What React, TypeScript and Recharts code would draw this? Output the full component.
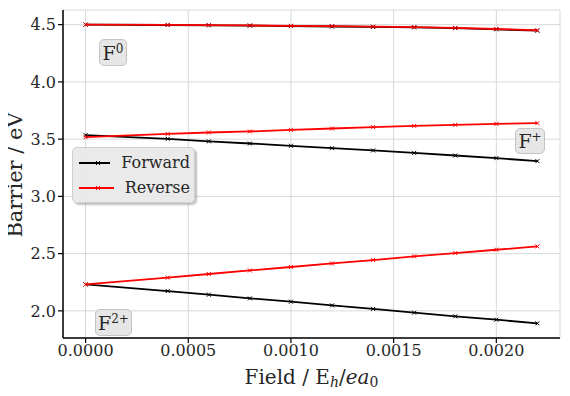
import React from "react";
import { LineChart, Line, XAxis, YAxis, CartesianGrid } from "recharts";

const fields = [0, 0.0004, 0.0006, 0.0008, 0.001, 0.0012, 0.0014, 0.0016, 0.0018, 0.002, 0.0022];

const f0Forward = [4.5, 4.497, 4.494, 4.491, 4.488, 4.484, 4.48, 4.476, 4.469, 4.459, 4.447];
const f0Reverse = [4.5, 4.498, 4.496, 4.493, 4.49, 4.487, 4.483, 4.479, 4.472, 4.462, 4.451];
const fPlusForward = [3.535, 3.503, 3.481, 3.462, 3.442, 3.421, 3.401, 3.38, 3.357, 3.334, 3.308];
const fPlusReverse = [3.517, 3.546, 3.558, 3.567, 3.581, 3.593, 3.605, 3.616, 3.625, 3.634, 3.64];
const f2Forward = [2.231, 2.173, 2.141, 2.109, 2.08, 2.048, 2.017, 1.984, 1.952, 1.923, 1.891];
const f2Reverse = [2.231, 2.29, 2.322, 2.353, 2.383, 2.414, 2.444, 2.476, 2.505, 2.534, 2.563];

const xTicks = [0, 0.0005, 0.001, 0.0015, 0.002];
const yTicks = [2.0, 2.5, 3.0, 3.5, 4.0, 4.5];
const legendItems = ["Forward", "Reverse"];

const data = fields.map((x, i) => ({
  x,
  f0f: f0Forward[i],
  f0r: f0Reverse[i],
  fpf: fPlusForward[i],
  fpr: fPlusReverse[i],
  f2f: f2Forward[i],
  f2r: f2Reverse[i],
}));

// Liberation Serif didn't resolve here, DejaVu Serif does
const FONT = '"DejaVu Serif", serif';
const BLACK = "#000000";
const RED = "#ff0000";
const TEXT = "#262626";

const cross = (color: string) => (props: any) => {
  const { cx, cy, index } = props;
  if (cx == null || cy == null) return <g key={index} />;
  const s = 2;
  return (
    <path
      key={index}
      d={`M${cx - s},${cy - s}L${cx + s},${cy + s}M${cx - s},${cy + s}L${cx + s},${cy - s}`}
      stroke={color}
      strokeWidth={1}
      fill="none"
    />
  );
};

const tickStyle = { fontFamily: FONT, fontSize: 16, fill: TEXT };

const labelBox: React.CSSProperties = {
  position: "absolute",
  background: "#e6e6e6",
  border: "1.5px solid #c4c4c4",
  borderRadius: 5,
  fontFamily: FONT,
  fontSize: 19,
  color: TEXT,
  display: "flex",
  alignItems: "center",
  justifyContent: "center",
  boxSizing: "border-box",
  lineHeight: 1,
};

function LegendBox() {
  const colors = [BLACK, RED];
  return (
    <div
      style={{
        position: "absolute",
        left: 72,
        top: 147,
        background: "rgba(232,232,232,0.92)",
        border: "1px solid #cfcfcf",
        borderRadius: 5,
        boxShadow: "2px 2px 2px rgba(0,0,0,0.25)",
        padding: "2px 4px 2px 5px",
        fontFamily: FONT,
        fontSize: 16,
        color: TEXT,
        width: 123,
        height: 56,
        boxSizing: "border-box",
      }}
    >
      {legendItems.map((text, i) => (
        <div key={text} style={{ display: "flex", alignItems: "center", height: 25 }}>
          <svg width={40} height={10} style={{ marginRight: 11 }}>
            <line x1={1} y1={5} x2={39} y2={5} stroke={colors[i]} strokeWidth={2} />
            <path d="M18,3L22,7M18,7L22,3" stroke={colors[i]} strokeWidth={1} />
          </svg>
          <span>{text}</span>
        </div>
      ))}
    </div>
  );
}

export default function App() {
  return (
    <div style={{ position: "relative", width: 570, height: 396, margin: -8, background: "#fff", fontFamily: FONT }}>
      <LineChart width={570} height={396} data={data} margin={{ top: 10, right: 10, left: 13, bottom: 28 }}>
        <CartesianGrid stroke="#d8d8d8" strokeWidth={1} />
        <XAxis
          dataKey="x"
          type="number"
          domain={[-0.00011, 0.00231]}
          allowDataOverflow
          ticks={xTicks}
          tickFormatter={(v: number) => v.toFixed(4)}
          tick={tickStyle}
          tickSize={5}
          tickLine={{ stroke: BLACK, strokeWidth: 1.2 }}
          axisLine={{ stroke: BLACK, strokeWidth: 1.5 }}
          height={30}
        />
        <XAxis
          xAxisId="top"
          dataKey="x"
          type="number"
          orientation="top"
          domain={[-0.00011, 0.00231]}
          allowDataOverflow
          tick={false}
          tickLine={false}
          axisLine={{ stroke: BLACK, strokeWidth: 1.5 }}
          height={0}
        />
        <YAxis
          type="number"
          domain={[1.763, 4.628]}
          allowDataOverflow
          ticks={yTicks}
          tickFormatter={(v: number) => v.toFixed(1)}
          tick={tickStyle}
          tickSize={5}
          tickLine={{ stroke: BLACK, strokeWidth: 1.2 }}
          axisLine={{ stroke: BLACK, strokeWidth: 1.5 }}
          width={50}
        />
        <YAxis
          yAxisId="right"
          type="number"
          orientation="right"
          domain={[1.763, 4.628]}
          allowDataOverflow
          tick={false}
          tickLine={false}
          axisLine={{ stroke: BLACK, strokeWidth: 1.5 }}
          width={0}
        />
        <Line dataKey="f0f" name="Forward" stroke={BLACK} strokeWidth={1.8} dot={cross(BLACK)} isAnimationActive={false} />
        <Line dataKey="fpf" name="Forward" stroke={BLACK} strokeWidth={1.8} dot={cross(BLACK)} isAnimationActive={false} />
        <Line dataKey="f2f" name="Forward" stroke={BLACK} strokeWidth={1.8} dot={cross(BLACK)} isAnimationActive={false} />
        <Line dataKey="f0r" name="Reverse" stroke={RED} strokeWidth={1.8} dot={cross(RED)} isAnimationActive={false} />
        <Line dataKey="fpr" name="Reverse" stroke={RED} strokeWidth={1.8} dot={cross(RED)} isAnimationActive={false} />
        <Line dataKey="f2r" name="Reverse" stroke={RED} strokeWidth={1.8} dot={cross(RED)} isAnimationActive={false} />
      </LineChart>

      <LegendBox />

      <div style={{ ...labelBox, left: 99, top: 39, width: 28, height: 27 }}>
        <span>F<sup style={{ fontSize: 12, verticalAlign: 7 }}>0</sup></span>
      </div>
      <div style={{ ...labelBox, left: 515, top: 128, width: 30, height: 26 }}>
        <span>F<sup style={{ fontSize: 12, verticalAlign: 7 }}>+</sup></span>
      </div>
      <div style={{ ...labelBox, left: 95, top: 309, width: 37, height: 27 }}>
        <span>F<sup style={{ fontSize: 12, verticalAlign: 7 }}>2+</sup></span>
      </div>

      <div
        style={{
          position: "absolute",
          left: 0,
          top: 365,
          width: 623,
          textAlign: "center",
          fontSize: 20,
          color: TEXT,
        }}
      >
        Field / E<sub style={{ fontSize: 14, fontStyle: "italic", verticalAlign: -3 }}>h</sub>/<i>ea</i>
        <sub style={{ fontSize: 14, verticalAlign: -3 }}>0</sub>
      </div>
      <div
        style={{
          position: "absolute",
          left: 15,
          top: 175,
          transform: "translate(-50%, -50%) rotate(-90deg)",
          whiteSpace: "nowrap",
          fontSize: 21,
          lineHeight: 1,
          color: TEXT,
        }}
      >
        Barrier / eV
      </div>
    </div>
  );
}
